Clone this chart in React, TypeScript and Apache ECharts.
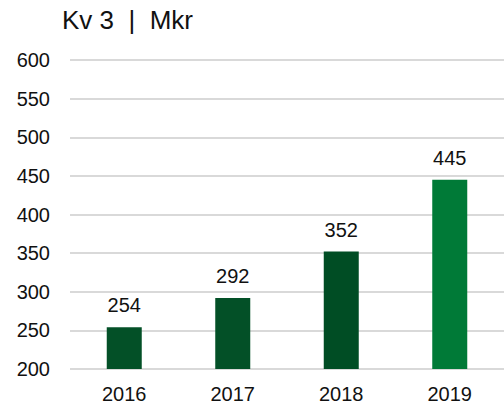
import React, { useEffect, useRef } from "react";
import * as echarts from "echarts";

const categories = ["2016", "2017", "2018", "2019"];
const values = [254, 292, 352, 445];
const barColors = ["#035027", "#035027", "#004d24", "#007a37"];
const titleText = "Kv 3  |  Mkr";

const FONT = "Liberation Sans, Arial, sans-serif";

export default function App() {
  const ref = useRef<HTMLDivElement>(null);
  useEffect(() => {
    document.body.style.margin = "0";
    const chart = echarts.init(ref.current!, null, { renderer: "svg" });
    chart.setOption({
      animation: false,
      backgroundColor: "#ffffff",
      textStyle: { fontFamily: FONT },
      title: {
        text: titleText,
        left: 57,
        top: 2,
        textStyle: { fontSize: 26, fontWeight: "normal", color: "#111111", fontFamily: FONT },
      },
      grid: { left: 70, right: 0, top: 60, bottom: 37, containLabel: false },
      xAxis: {
        type: "category",
        data: categories,
        axisLine: { show: false },
        axisTick: { show: false },
        axisLabel: { fontSize: 20, color: "#111111", margin: 15, fontFamily: FONT },
      },
      yAxis: {
        type: "value",
        min: 200,
        max: 600,
        interval: 50,
        axisLine: { show: false },
        axisTick: { show: false },
        axisLabel: { fontSize: 20, color: "#111111", margin: 20, fontFamily: FONT },
        splitLine: { lineStyle: { color: "#d9d9d9", width: 2 } },
      },
      series: [
        {
          type: "bar",
          barWidth: 35,
          data: values.map((v, i) => ({ value: v, itemStyle: { color: barColors[i] } })),
          label: {
            show: true,
            position: "top",
            distance: 12,
            fontSize: 20,
            color: "#111111",
            fontFamily: FONT,
          },
        },
      ],
    });
    return () => chart.dispose();
  }, []);
  return <div ref={ref} style={{ width: 504, height: 406 }} />;
}
